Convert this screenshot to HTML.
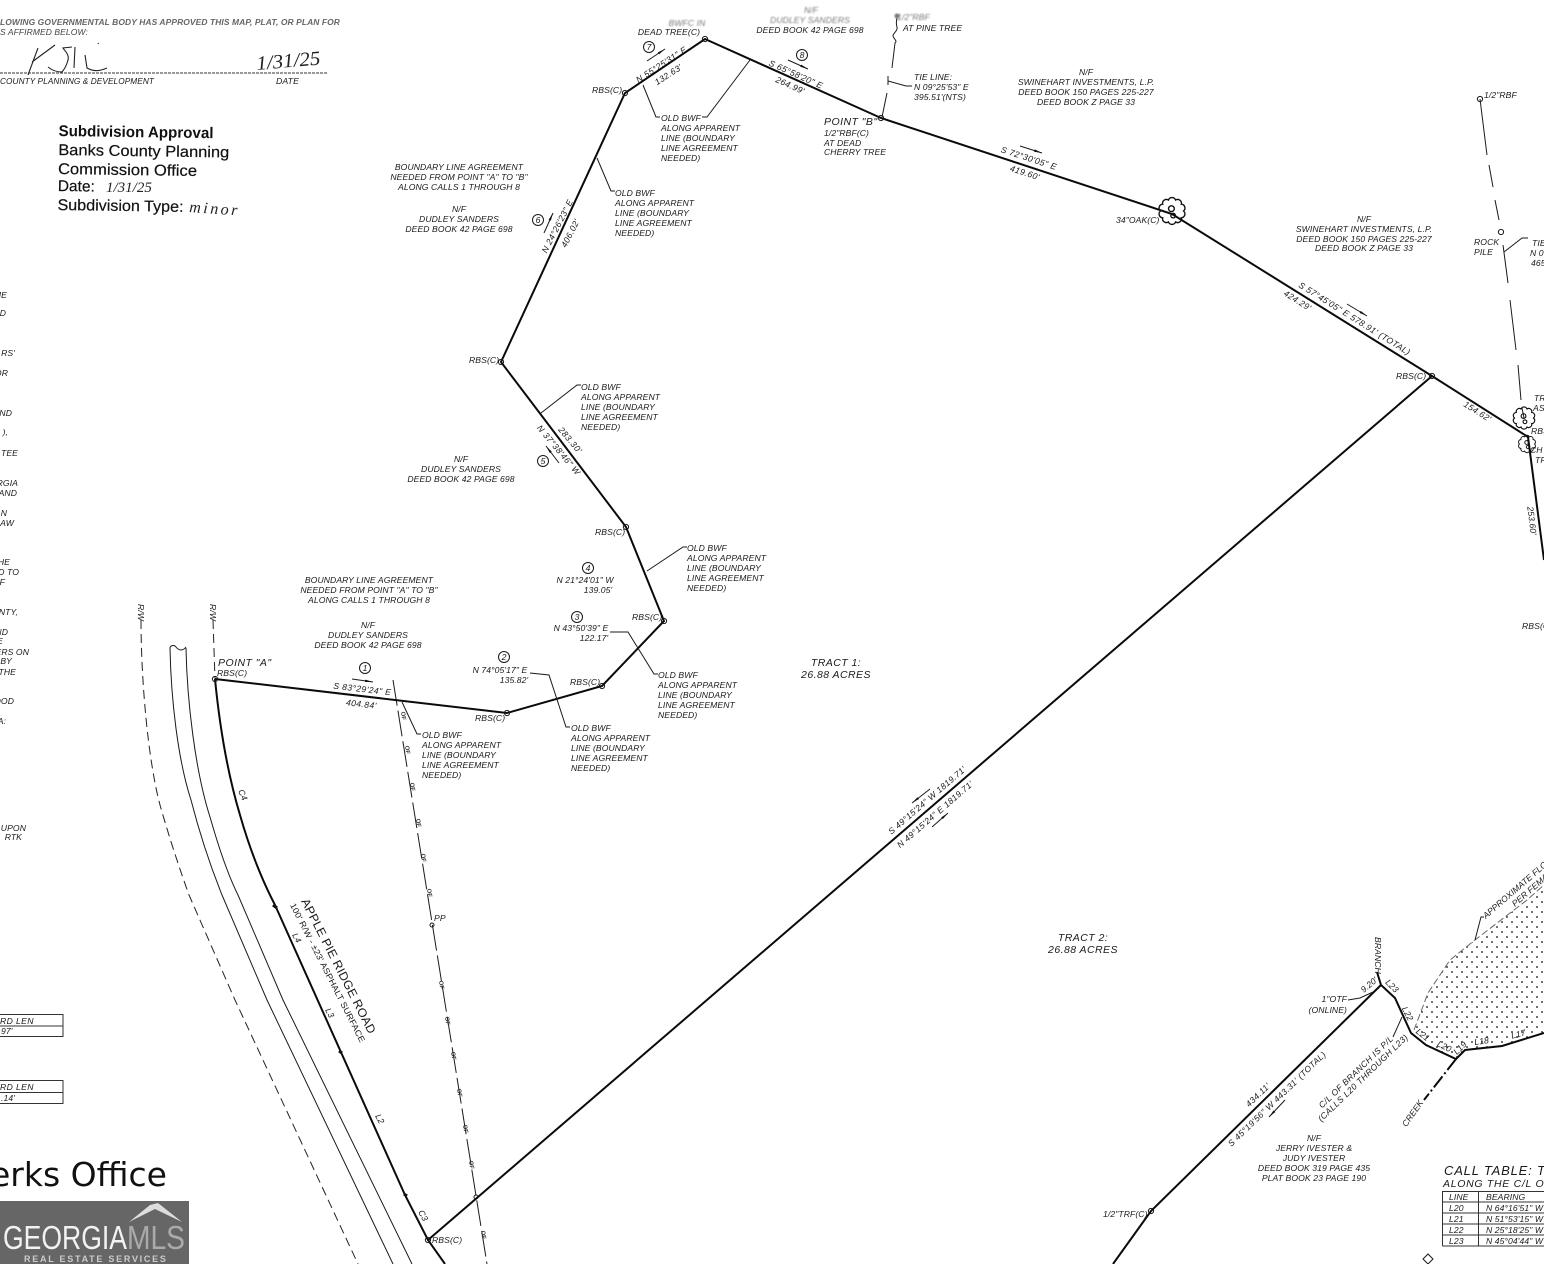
<!DOCTYPE html>
<html><head><meta charset="utf-8"><style>
html,body{margin:0;padding:0;background:#fff;width:1544px;height:1264px;overflow:hidden}
svg{display:block;filter:blur(.3px)}
text{font-family:"Liberation Sans",sans-serif;font-style:italic;font-size:8.6px;letter-spacing:.09px;fill:#1a1a1a}
.m{text-anchor:middle}.e{text-anchor:end}
.w{font-size:10.5px;letter-spacing:.45px}
.b{fill:none;stroke:#0a0a0a;stroke-width:2}
.l{fill:none;stroke:#1a1a1a;stroke-width:1}
.d{fill:none;stroke:#222;stroke-width:1;stroke-dasharray:9 5}
.o{fill:none;stroke:#1a1a1a;stroke-width:1}
.s{font-style:normal;font-size:15.5px;letter-spacing:0;fill:#111;stroke:#111;stroke-width:.2}
.h{font-family:"Liberation Serif",serif;fill:#222;letter-spacing:0}
.f{font-size:6px;font-style:normal;font-weight:bold;letter-spacing:0;fill:#333}
.gb{fill:#777;filter:blur(.7px)}
</style></head><body>
<svg width="1544" height="1264" viewBox="0 0 1544 1264" xmlns="http://www.w3.org/2000/svg">
<defs>
<pattern id="dots" width="10" height="10" patternUnits="userSpaceOnUse"><circle cx="2" cy="2" r="1" fill="#444"/><circle cx="7" cy="7" r="1" fill="#444"/></pattern>
<marker id="a" markerWidth="9" markerHeight="4" refX="8" refY="2" orient="auto"><path d="M0 .8L8 2L0 3.2Z" fill="#111"/></marker>
<path id="tr" fill="none" stroke="#111" stroke-width="1.2" d="M10 0A3.3 3.3 0 0 1 8.09 5.88A3.3 3.3 0 0 1 3.09 9.51A3.3 3.3 0 0 1 -3.09 9.51A3.3 3.3 0 0 1 -8.09 5.88A3.3 3.3 0 0 1 -10 0A3.3 3.3 0 0 1 -8.09 -5.88A3.3 3.3 0 0 1 -3.09 -9.51A3.3 3.3 0 0 1 3.09 -9.51A3.3 3.3 0 0 1 8.09 -5.88A3.3 3.3 0 0 1 10 0ZM-3 -2A2.500 2.500 0 1 0 2 -2A2.500 2.500 0 1 0 -3 -2M-1 4A2 2 0 1 0 3 4A2 2 0 1 0 -1 4"/>
</defs>
<rect width="1544" height="1264" fill="#fff"/>

<!-- flood area -->
<path d="M1414 1030L1428 993L1450 960L1475 940L1527 900L1544 885V1033L1502 1046L1465 1050L1456 1059L1426 1045Z" fill="url(#dots)"/>
<path d="M1414 1030L1428 993L1450 960L1475 940L1527 900L1544 885" fill="none" stroke="#666" stroke-width="1" stroke-dasharray="7 3"/>
<path class="l" d="M1475 940L1481 917L1484 917"/>
<text transform="translate(1486,919) rotate(-41)" font-size="8">APPROXIMATE FLOOD</text>
<text transform="translate(1515,907) rotate(-41)">PER FEMA</text>

<!-- road -->
<path class="l" d="M170 648C170 646 174 644 176 647C179 651 183 651 186 647"/>
<path class="l" d="M170 648C171 700 178 760 191 800C200 835 212 870 222 895L267 1000L393 1264"/>
<path class="l" d="M186 648C187 700 195 770 210 817C218 845 228 875 238 895L283 1000L412 1264"/>
<path class="d" d="M141 620C141 680 148 760 160 805C170 840 180 870 189 895L235 1000L358 1264"/>
<path class="d" d="M213 620L215 679"/>
<text transform="translate(138,604) rotate(90)" font-size="8">R/W</text>
<text transform="translate(210,604) rotate(90)" font-size="8">R/W</text>

<!-- fence -->
<path class="l" stroke-dasharray="26 5" d="M393 680L487 1264"/>
<text class="f" transform="translate(401,712) rotate(81)">OF</text><text class="f" transform="translate(405,746) rotate(81)">OF</text><text class="f" transform="translate(410,783) rotate(81)">OF</text><text class="f" transform="translate(416,819) rotate(81)">OF</text><text class="f" transform="translate(421,854) rotate(81)">OF</text><text class="f" transform="translate(427,889) rotate(81)">OF</text><text class="f" transform="translate(439,981) rotate(81)">OF</text><text class="f" transform="translate(445,1017) rotate(81)">OF</text><text class="f" transform="translate(451,1052) rotate(81)">OF</text><text class="f" transform="translate(457,1089) rotate(81)">OF</text><text class="f" transform="translate(463,1125) rotate(81)">OF</text><text class="f" transform="translate(469,1161) rotate(81)">OF</text><text class="f" transform="translate(481,1231) rotate(81)">OF</text>
<circle class="o" cx="432" cy="925" r="2"/><text x="434" y="921" font-size="8">PP</text>
<circle class="o" cx="476" cy="1197" r="2"/>

<!-- main boundary -->
<path class="b" d="M215 679L507 713L602 686L664 621L626 527L501 362L625 93L705 39L881 118L1172 214L1432 376L1528 437L1544 560"/>
<path class="b" d="M1432 376L428 1240"/>
<path class="b" d="M215 679C220 730 228 775 240 815C250 850 262 880 275 905L405 1195L428 1240L445 1264"/>
<path d="M273 905l4 3M404 1194l3 2M339 1051l3 2" stroke="#111" stroke-width="3"/>
<g class="o" fill="#fff">
<circle cx="215" cy="679" r="2.6"/><circle cx="507" cy="713" r="2.6"/><circle cx="602" cy="686" r="2.6"/><circle cx="664" cy="621" r="2.6"/><circle cx="626" cy="527" r="2.6"/><circle cx="501" cy="362" r="2.6"/><circle cx="625" cy="93" r="2.6"/><circle cx="705" cy="39" r="2.6"/><circle cx="881" cy="118" r="2.6"/><circle cx="1432" cy="376" r="2.6"/><circle cx="428" cy="1240" r="2.6"/><circle cx="1480" cy="99" r="2.6"/><circle cx="1501" cy="232" r="2.6"/><circle cx="1151" cy="1211" r="2.6"/>
</g>
<path d="M1423 1259l5-5 5 5-5 5z" class="o"/>

<!-- trees -->
<use href="#tr" transform="translate(1172,211) scale(1.15)"/>
<use href="#tr" transform="translate(1524,418) scale(.95)"/>
<use href="#tr" transform="translate(1527,444) scale(.75)"/>

<!-- leaders -->
<path class="l" d="M402 702L417 734L421 734"/>
<path class="l" d="M530 673L549 675L566 727L570 727"/>
<path class="l" d="M610 632L628 632L654 674L658 674"/>
<path class="l" d="M647 571L683 547L687 547"/>
<path class="l" d="M541 413L577 385L581 385"/>
<path class="l" d="M597 158L611 191L615 191"/>
<path class="l" d="M643 85L656 117L660 117"/>
<path class="l" d="M750 60L707 117L702 117"/>
<path class="l" d="M888 81L906 86L912 86"/>
<path class="l" d="M882 117L887 93M888 85L888 76M892 68L895 43C898 41 893 38 893 36C893 33 898 31 897 27C896 24 896 22 897 18"/>
<circle class="gb" cx="897" cy="16" r="2.500"/>
<path class="l" d="M1480 99L1487 155M1489 165L1493 187M1495 200L1499 220M1503 245L1508 283M1510 300L1516 350M1518 365L1521 400M1522 408L1524 418"/>
<path class="l" d="M1504 252L1522 238L1528 238"/>
<path class="l" d="M352 679L373 682" marker-end="url(#a)"/>
<path class="l" d="M647 61L665 49" marker-end="url(#a)"/>
<path class="l" d="M788 60L808 69" marker-end="url(#a)"/>
<path class="l" d="M1020 146L1042 153" marker-end="url(#a)"/>
<path class="l" d="M1347 304L1367 316" marker-end="url(#a)"/>
<path class="l" d="M544 233L553 213" marker-end="url(#a)"/>
<path class="l" d="M559 463L546 446" marker-end="url(#a)"/>
<path class="l" d="M930 789L912 803" marker-end="url(#a)"/>
<path class="l" d="M932 827L948 813" marker-end="url(#a)"/>
<path class="l" d="M1285 1100L1269 1117" marker-end="url(#a)"/>

<!-- numbered circles -->
<g class="o"><circle cx="365" cy="668" r="5.5"/><circle cx="504" cy="657" r="5.5"/><circle cx="577" cy="617" r="5.5"/><circle cx="588" cy="568" r="5.5"/><circle cx="543" cy="461" r="5.5"/><circle cx="538" cy="220" r="5.5"/><circle cx="649" cy="47" r="5.5"/><circle cx="802" cy="55" r="5.5"/></g>
<text class="m" x="365" y="671" font-size="8">1</text><text class="m" x="504" y="660" font-size="8">2</text><text class="m" x="577" y="620" font-size="8">3</text><text class="m" x="588" y="571" font-size="8">4</text><text class="m" x="543" y="464" font-size="8">5</text><text class="m" x="538" y="223" font-size="8">6</text><text class="m" x="649" y="50" font-size="8">7</text><text class="m" x="802" y="58" font-size="8">8</text>

<!-- bearing labels -->
<text class="m" transform="translate(362,692) rotate(6.6)" letter-spacing=".4" style="letter-spacing:.4px">S 83°29'24" E</text>
<text class="m" transform="translate(361,707) rotate(6.6)" style="letter-spacing:.4px">404.84'</text>
<text class="m" x="500" y="673">N 74°05'17" E</text><text class="m" x="514" y="683">135.82'</text>
<text class="m" x="581" y="631">N 43°50'39" E</text><text class="m" x="594" y="641">122.17'</text>
<text class="m" x="585" y="583">N 21°24'01" W</text><text class="m" x="598" y="593">139.05'</text>
<text class="m" transform="translate(556.5,452) rotate(50)" style="letter-spacing:.5px">N 37°38'46" W</text>
<text class="m" transform="translate(568,442) rotate(50)" style="letter-spacing:.5px">283.30'</text>
<text class="m" transform="translate(560,227.500) rotate(-63)" style="letter-spacing:.4px">N 24°26'23" E</text>
<text class="m" transform="translate(573,234.500) rotate(-63)" style="letter-spacing:.4px">406.02'</text>
<text class="m" transform="translate(663,67) rotate(-33)" style="letter-spacing:.4px">N 55°25'31" E</text>
<text class="m" transform="translate(670,77) rotate(-33)" style="letter-spacing:.4px">132.63'</text>
<text class="m" transform="translate(794.700,77) rotate(24)" style="letter-spacing:.4px">S 65°58'20" E</text>
<text class="m" transform="translate(789,88) rotate(24)" style="letter-spacing:.4px">264.99'</text>
<text class="m" transform="translate(1028,161) rotate(18)" style="letter-spacing:.4px">S 72°30'05" E</text>
<text class="m" transform="translate(1024,175.500) rotate(18)" style="letter-spacing:.4px">419.60'</text>
<text class="m" transform="translate(1353,321) rotate(32)" style="letter-spacing:.4px">S 57°45'05" E   578.91' (TOTAL)</text>
<text class="m" transform="translate(1296,303) rotate(32)" style="letter-spacing:.4px">424.29'</text>
<text class="m" transform="translate(1476,414) rotate(32)" style="letter-spacing:.4px">154.62'</text>
<text class="m" transform="translate(1529,521) rotate(83)">253.60'</text>
<text class="m" transform="translate(929,802.500) rotate(-40.700)" style="letter-spacing:.4px">S 49°15'24" W   1819.71'</text>
<text class="m" transform="translate(937,816.500) rotate(-40.700)" style="letter-spacing:.4px">N 49°15'24" E   1819.71'</text>
<text transform="translate(238,791) rotate(66)" font-size="8">C4</text>
<text transform="translate(292,935) rotate(62)" font-size="8">L4</text>
<text transform="translate(325,1010) rotate(62)" font-size="8">L3</text>
<text transform="translate(375,1116) rotate(62)" font-size="8">L2</text>
<text transform="translate(418,1212) rotate(62)" font-size="8">C3</text>
<text class="m" transform="translate(335,968) rotate(63)" textLength="150" lengthAdjust="spacingAndGlyphs" style="font-style:normal;font-size:12px;letter-spacing:.2px">APPLE PIE RIDGE ROAD</text>
<text class="m" transform="translate(325,974) rotate(63)" textLength="155" lengthAdjust="spacingAndGlyphs" style="font-style:normal;font-size:8.5px">100' R/W - ±23' ASPHALT SURFACE</text>

<!-- RBS labels -->
<text x="218" y="666" class="w">POINT "A"</text>
<text x="217" y="676">RBS(C)</text>
<text x="475" y="721">RBS(C)</text><text x="570" y="685">RBS(C)</text><text x="632" y="620">RBS(C)</text><text x="595" y="535">RBS(C)</text><text x="469" y="363">RBS(C)</text><text x="592" y="93">RBS(C)</text><text x="1116" y="223">34"OAK(C)</text><text x="1396" y="379">RBS(C)</text><text x="432" y="1243">RBS(C)</text><text x="1522" y="629">RBS(C)</text><text x="1531" y="434">RBS(C)</text>
<text x="1530" y="453">CH</text><text x="1535" y="463">TR</text><text x="1534" y="401">TR</text><text x="1533" y="411">AS</text>
<text x="1484" y="98">1/2"RBF</text><text x="1474" y="245">ROCK</text><text x="1474" y="255">PILE</text><text x="1532" y="246">TIE</text><text x="1530" y="256">N 0</text><text x="1531" y="266">465</text>

<!-- labels -->
<text class="m gb" x="687" y="26">BWFC IN</text><text class="m" x="669" y="35">DEAD TREE(C)</text>
<text class="m gb" x="811" y="13">N/F</text><text class="m gb" x="810" y="23">DUDLEY SANDERS</text><text class="m" x="810" y="33">DEED BOOK 42 PAGE 698</text>
<text x="897" y="20" class="gb">1/2"RBF</text><text x="903" y="31">AT PINE TREE</text>
<text x="914" y="80">TIE LINE:</text><text x="914" y="90">N 09°25'53" E</text><text x="914" y="100">395.51'(NTS)</text>
<text x="824" y="125" class="w">POINT "B"</text><text x="824" y="136">1/2"RBF(C)</text><text x="824" y="146">AT DEAD</text><text x="824" y="155">CHERRY TREE</text>
<text class="m" x="1086" y="75">N/F</text><text class="m" x="1086" y="85">SWINEHART INVESTMENTS, L.P.</text><text class="m" x="1086" y="95">DEED BOOK 150 PAGES 225-227</text><text class="m" x="1086" y="105">DEED BOOK Z PAGE 33</text>
<text class="m" x="1364" y="222">N/F</text><text class="m" x="1364" y="232">SWINEHART INVESTMENTS, L.P.</text><text class="m" x="1364" y="242">DEED BOOK 150 PAGES 225-227</text><text class="m" x="1364" y="251">DEED BOOK Z PAGE 33</text>
<text class="m" x="459" y="170">BOUNDARY LINE AGREEMENT</text><text class="m" x="459" y="180">NEEDED FROM POINT "A" TO "B"</text><text class="m" x="459" y="190">ALONG CALLS 1 THROUGH 8</text>
<text class="m" x="459" y="212">N/F</text><text class="m" x="459" y="222">DUDLEY SANDERS</text><text class="m" x="459" y="232">DEED BOOK 42 PAGE 698</text>
<text class="m" x="461" y="462">N/F</text><text class="m" x="461" y="472">DUDLEY SANDERS</text><text class="m" x="461" y="482">DEED BOOK 42 PAGE 698</text>
<text class="m" x="369" y="583">BOUNDARY LINE AGREEMENT</text><text class="m" x="369" y="593">NEEDED FROM POINT "A" TO "B"</text><text class="m" x="369" y="603">ALONG CALLS 1 THROUGH 8</text>
<text class="m" x="368" y="628">N/F</text><text class="m" x="368" y="638">DUDLEY SANDERS</text><text class="m" x="368" y="648">DEED BOOK 42 PAGE 698</text>
<text x="661" y="121">OLD BWF</text><text x="661" y="131">ALONG APPARENT</text><text x="661" y="141">LINE (BOUNDARY</text><text x="661" y="151">LINE AGREEMENT</text><text x="661" y="161">NEEDED)</text>
<text x="615" y="196">OLD BWF</text><text x="615" y="206">ALONG APPARENT</text><text x="615" y="216">LINE (BOUNDARY</text><text x="615" y="226">LINE AGREEMENT</text><text x="615" y="236">NEEDED)</text>
<text x="581" y="390">OLD BWF</text><text x="581" y="400">ALONG APPARENT</text><text x="581" y="410">LINE (BOUNDARY</text><text x="581" y="420">LINE AGREEMENT</text><text x="581" y="430">NEEDED)</text>
<text x="687" y="551">OLD BWF</text><text x="687" y="561">ALONG APPARENT</text><text x="687" y="571">LINE (BOUNDARY</text><text x="687" y="581">LINE AGREEMENT</text><text x="687" y="591">NEEDED)</text>
<text x="658" y="678">OLD BWF</text><text x="658" y="688">ALONG APPARENT</text><text x="658" y="698">LINE (BOUNDARY</text><text x="658" y="708">LINE AGREEMENT</text><text x="658" y="718">NEEDED)</text>
<text x="571" y="731">OLD BWF</text><text x="571" y="741">ALONG APPARENT</text><text x="571" y="751">LINE (BOUNDARY</text><text x="571" y="761">LINE AGREEMENT</text><text x="571" y="771">NEEDED)</text>
<text x="422" y="738">OLD BWF</text><text x="422" y="748">ALONG APPARENT</text><text x="422" y="758">LINE (BOUNDARY</text><text x="422" y="768">LINE AGREEMENT</text><text x="422" y="778">NEEDED)</text>

<text class="m w" x="836" y="666">TRACT 1:</text><text class="m w" x="836" y="678">26.88 ACRES</text>
<text class="m w" x="1083" y="941">TRACT 2:</text><text class="m w" x="1083" y="953">26.88 ACRES</text>

<!-- creek / branch -->
<path class="b" d="M1381 985L1151 1211L1113 1264"/>
<path class="b" d="M1377 972L1381 985L1395 998L1411 1033L1426 1045L1456 1059L1465 1050L1502 1046L1544 1033"/>
<path class="b" stroke-dasharray="14 3 2 3" d="M1456 1059L1424 1100"/>
<path class="l" d="M1402 1017L1393 1037M1348 1000L1360 998L1373 992"/>
<text transform="translate(1375,937) rotate(90)" font-size="8">BRANCH</text>
<text class="e" x="1347" y="1002">1"OTF</text><text class="e" x="1347" y="1013">(ONLINE)</text>
<text class="m" transform="translate(1371,987) rotate(-40)" font-size="8">9.20'</text>
<text class="m" transform="translate(1390,988) rotate(45)" font-size="8">L23</text>
<text class="m" transform="translate(1405,1015) rotate(63)" font-size="8">L22</text>
<text class="m" transform="translate(1421,1037) rotate(38)" font-size="8">L21</text>
<text class="m" transform="translate(1443,1049) rotate(26)" font-size="8">L20</text>
<text class="m" transform="translate(1462,1050) rotate(-45)" font-size="8">L19</text>
<text class="m" transform="translate(1482,1044) rotate(-8)" font-size="8">L18</text>
<text class="m" transform="translate(1519,1037) rotate(-14)" font-size="8">L17</text>
<text class="m" transform="translate(1358,1074) rotate(-44)" style="letter-spacing:.4px">C/L OF BRANCH IS P/L</text>
<text class="m" transform="translate(1365,1080) rotate(-44)" style="letter-spacing:.4px">(CALLS L20 THROUGH L23)</text>
<text class="m" transform="translate(1415,1115) rotate(-55)" font-size="8">CREEK</text>
<text class="m" transform="translate(1260,1097) rotate(-44)" style="letter-spacing:.4px">434.11'</text>
<text class="m" transform="translate(1279,1101) rotate(-44)" style="letter-spacing:.4px">S 45°19'56" W  443.31' (TOTAL)</text>
<text class="m" x="1314" y="1141">N/F</text><text class="m" x="1314" y="1151">JERRY IVESTER &amp;</text><text class="m" x="1314" y="1161">JUDY IVESTER</text><text class="m" x="1314" y="1171">DEED BOOK 319 PAGE 435</text><text class="m" x="1314" y="1181">PLAT BOOK 23 PAGE 190</text>
<text x="1103" y="1217">1/2"TRF(C)</text>

<!-- call table -->
<text x="1444" y="1175" style="font-size:13px;letter-spacing:.8px">CALL TABLE: TRACT</text>
<text x="1443" y="1187" style="font-size:10.5px;letter-spacing:.7px">ALONG THE C/L OF BRANCH</text>
<path d="M1442.5 1191.500H1544M1442.500 1202H1544M1442.500 1213H1544M1442.500 1224H1544M1442.500 1235H1544M1442.500 1246H1544M1442.500 1191V1246M1478.500 1191V1246" fill="none" stroke="#333" stroke-width="1"/>
<text x="1449" y="1200">LINE</text><text x="1449" y="1211">L20</text><text x="1449" y="1222">L21</text><text x="1449" y="1233">L22</text><text x="1449" y="1244">L23</text>
<text x="1486" y="1200">BEARING</text><text x="1486" y="1211">N 64°16'51" W</text><text x="1486" y="1222">N 51°53'15" W</text><text x="1486" y="1233">N 25°18'25" W</text><text x="1486" y="1244">N 45°04'44" W</text>

<!-- left tables -->
<path d="M0 1014.500H63V1036.500H0M0 1026H63M0 1080.500H63V1103.500H0M0 1092.500H63" fill="none" stroke="#333" stroke-width="1"/>
<text x="0" y="1024" style="letter-spacing:.4px">RD LEN</text><text x="1" y="1034">97'</text><text x="0" y="1090" style="letter-spacing:.4px">RD LEN</text><text x="1" y="1101">.14'</text>

<!-- left edge fragments -->
<text class="e" x="7" y="298">ME</text><text class="e" x="6" y="316">D</text><text class="e" x="15" y="356">RS'</text><text class="e" x="8" y="376">OR</text><text class="e" x="12" y="416">ND</text><text class="e" x="8" y="435">),</text><text class="e" x="18" y="456">TEE</text><text class="e" x="18" y="486">RGIA</text><text class="e" x="17" y="496">AND</text><text class="e" x="7" y="516">N</text><text class="e" x="14" y="526">AW</text><text class="e" x="10" y="565">HE</text><text class="e" x="19" y="575">D TO</text><text class="e" x="5" y="585">F</text><text class="e" x="18" y="615">NTY,</text><text class="e" x="8" y="635">ND</text><text class="e" x="3" y="644">E</text><text class="e" x="29" y="655">ERS ON</text><text class="e" x="12" y="664">BY</text><text class="e" x="16" y="675">THE</text><text class="e" x="14" y="704">OOD</text><text class="e" x="6" y="724">A:</text><text class="e" x="26" y="831">UPON</text><text class="e" x="22" y="840">RTK</text>

<!-- top left -->
<text x="0" y="25" textLength="340" lengthAdjust="spacingAndGlyphs" style="fill:#666;font-weight:bold">LOWING GOVERNMENTAL BODY HAS APPROVED THIS MAP, PLAT, OR PLAN FOR</text>
<text x="0" y="35" textLength="88" lengthAdjust="spacingAndGlyphs" style="fill:#444">S AFFIRMED BELOW:</text>
<path d="M0 73H328" stroke="#333" stroke-width="1" stroke-dasharray="3 1"/>
<text x="0" y="84" textLength="154" lengthAdjust="spacingAndGlyphs">COUNTY PLANNING &amp; DEVELOPMENT</text>
<text x="276" y="84" textLength="23" lengthAdjust="spacingAndGlyphs">DATE</text>
<path d="M38 48L28 75M32 62L55 45M48 67C54 72 60 72 62 72C67 66 69 58 68 56C67 52 64 50 63 48L72 47M75 47L74 68M85 55L87 68C94 72 100 71 107 68M98 43l.5 1" fill="none" stroke="#222" stroke-width="1.1"/>
<text class="h" transform="translate(257,70) rotate(-5)" textLength="64" lengthAdjust="spacingAndGlyphs" style="font-size:20px;font-style:italic">1/31/25</text>
<g transform="rotate(.8 58 170)">
<text class="s" x="58" y="136" textLength="155" lengthAdjust="spacingAndGlyphs" style="font-weight:bold;stroke-width:0">Subdivision Approval</text>
<text class="s" x="58" y="155" textLength="171" lengthAdjust="spacingAndGlyphs">Banks County Planning</text>
<text class="s" x="58" y="174" textLength="139" lengthAdjust="spacingAndGlyphs">Commission Office</text>
<text class="s" x="58" y="191">Date:</text>
<text class="s" x="58" y="210" textLength="126" lengthAdjust="spacingAndGlyphs">Subdivision Type:</text>
</g>
<text class="h" x="106" y="192" style="font-size:15px;font-style:italic">1/31/25</text>
<text class="h" transform="translate(189,212) rotate(4)" style="font-size:16px;font-style:italic;letter-spacing:2.500px">minor</text>

<text class="e" x="167" y="1186" style="font-family:'DejaVu Sans',sans-serif;font-style:normal;font-size:33px;letter-spacing:0;fill:#111">erks Office</text>

<!-- logo -->
<rect x="0" y="1201" width="189" height="63" fill="#666"/>
<path d="M129 1222L150 1205L158 1203L182 1222L155 1209Z" fill="#ddd"/>
<text x="3" y="1249" textLength="124" lengthAdjust="spacingAndGlyphs" style="font-style:normal;font-size:33px;letter-spacing:0;fill:#f2f2f2">GEORGIA</text>
<text x="127" y="1249" textLength="58" lengthAdjust="spacingAndGlyphs" style="font-style:normal;font-size:33px;letter-spacing:0;fill:#aaa">MLS</text>
<text x="24" y="1262" textLength="142" style="font-style:normal;font-weight:bold;font-size:9px;fill:#ccc">REAL ESTATE SERVICES</text>
</svg>
</body></html>
